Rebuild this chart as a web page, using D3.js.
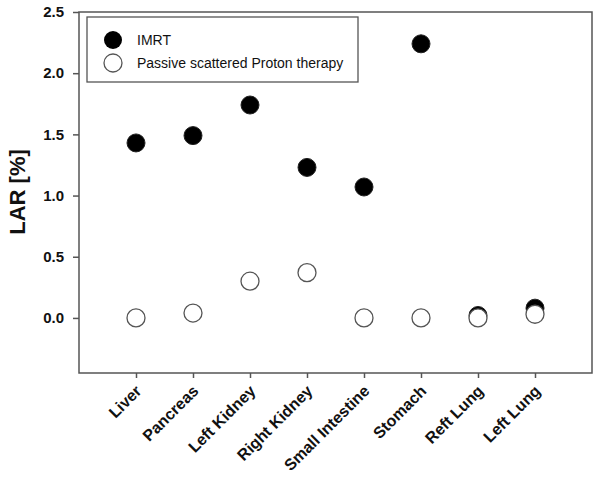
<!DOCTYPE html>
<html>
<head>
<meta charset="utf-8">
<script src="https://cdn.jsdelivr.net/npm/d3@7"></script>
<style>
  body { margin: 0; background: #fff; }
  text { font-family: Arial, "Liberation Sans", sans-serif; }
</style>
</head>
<body>
<script>
// organs along the x axis
var organs = ["Liver", "Pancreas", "Left Kidney", "Right Kidney", "Small Intestine", "Stomach", "Reft Lung", "Left Lung"]
// LAR values in %
var imrt = [1.43, 1.49, 1.74, 1.23, 1.07, 2.24, 0.02, 0.08]
var proton = [0.0, 0.04, 0.30, 0.37, 0.0, 0.0, 0.0, 0.03]
var yTicks = [0.0, 0.5, 1.0, 1.5, 2.0, 2.5]

var width = 601, height = 483
// plot frame (don't use "top" - it's window.top)
var plotLeft = 79, plotRight = 592, plotTop = 12, plotBottom = 373

var svg = d3.select("body").append("svg")
    .attr("width", width)
    .attr("height", height)

var x = d3.scaleLinear().domain([0, organs.length + 1]).range([plotLeft, plotRight])
var y = d3.scaleLinear().domain([-0.45, 2.5]).range([plotBottom, plotTop])

// frame
svg.append("rect")
    .attr("x", plotLeft).attr("y", plotTop)
    .attr("width", plotRight - plotLeft).attr("height", plotBottom - plotTop)
    .attr("fill", "none").attr("stroke", "#555").attr("stroke-width", 1.5)

// y axis
var yAxis = svg.append("g")
    .attr("transform", "translate(" + plotLeft + ",0)")
    .call(d3.axisLeft(y).tickValues(yTicks).tickFormat(d3.format(".1f")).tickSize(6).tickPadding(9))
yAxis.select(".domain").remove()
yAxis.selectAll("line").attr("stroke", "#555").attr("stroke-width", 1.5)
yAxis.selectAll("text")
    .attr("font-size", 15).attr("font-weight", "bold").attr("fill", "#111")
    .style("font-family", "Arial, 'Liberation Sans', sans-serif")

// x axis
var xAxis = svg.append("g")
    .attr("transform", "translate(0," + plotBottom + ")")
    .call(d3.axisBottom(x).tickValues(d3.range(1, organs.length + 1)).tickFormat(function(d) { return organs[d - 1] }).tickSize(5))
xAxis.select(".domain").remove()
xAxis.selectAll("line").attr("stroke", "#555").attr("stroke-width", 1.5)
xAxis.selectAll("text")
    .attr("font-size", 16).attr("font-weight", "bold").attr("fill", "#111")
    .style("font-family", "Arial, 'Liberation Sans', sans-serif")
    .attr("text-anchor", "end")
    .attr("x", 0).attr("y", 0).attr("dy", 0)
    .attr("transform", "translate(6,19) rotate(-45)")

// y label
svg.append("text")
    .attr("transform", "translate(25,192) rotate(-90)")
    .attr("text-anchor", "middle")
    .attr("font-size", 22).attr("font-weight", "bold").attr("fill", "#111")
    .text("LAR [%]")

// points
var r = 9
svg.selectAll(".imrt")
    .data(imrt)
    .join("circle")
    .attr("class", "imrt")
    .attr("cx", function(d, i) { return x(i + 1) })
    .attr("cy", function(d) { return y(d) })
    .attr("r", r)
    .attr("fill", "#000").attr("stroke", "#222")

svg.selectAll(".proton")
    .data(proton)
    .join("circle")
    .attr("class", "proton")
    .attr("cx", function(d, i) { return x(i + 1) })
    .attr("cy", function(d) { return y(d) })
    .attr("r", r)
    .attr("fill", "#fff").attr("stroke", "#555").attr("stroke-width", 1.3)

// legend
var legend = svg.append("g")
legend.append("rect")
    .attr("x", 87).attr("y", 17).attr("width", 271).attr("height", 65)
    .attr("fill", "#fff").attr("stroke", "#555").attr("stroke-width", 1.3)
legend.append("circle").attr("cx", 113).attr("cy", 40).attr("r", r).attr("fill", "#000")
legend.append("circle").attr("cx", 113).attr("cy", 63).attr("r", r)
    .attr("fill", "#fff").attr("stroke", "#555").attr("stroke-width", 1.3)
legend.append("text").attr("x", 137).attr("y", 45).attr("font-size", 14).attr("fill", "#111").text("IMRT")
legend.append("text").attr("x", 137).attr("y", 68).attr("font-size", 14).attr("fill", "#111").text("Passive scattered Proton therapy")
</script>
</body>
</html>
